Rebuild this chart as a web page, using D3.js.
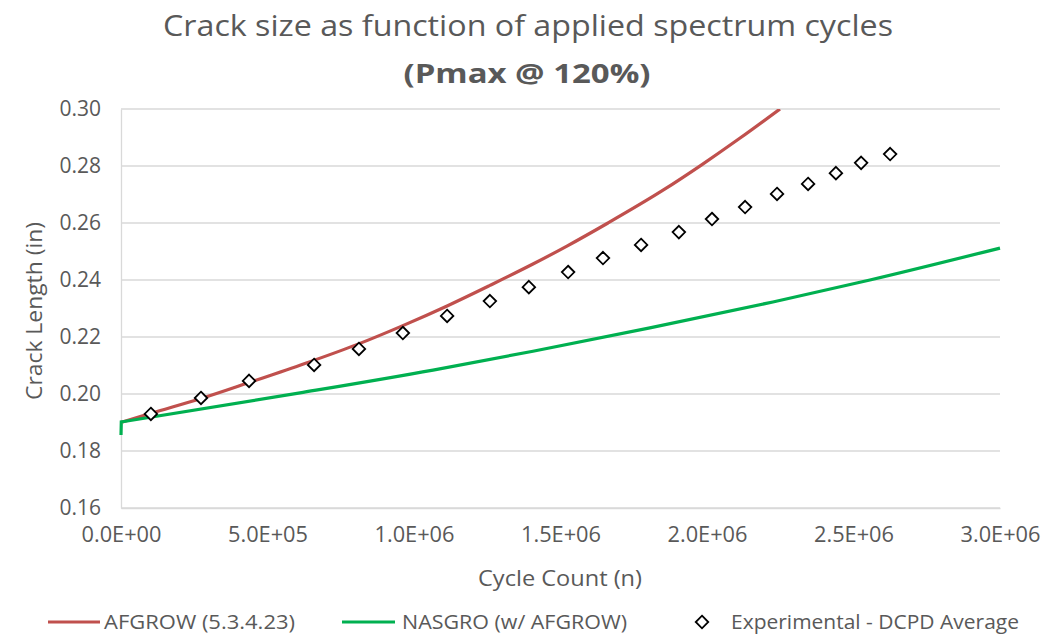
<!DOCTYPE html>
<html>
<head>
<meta charset="utf-8">
<script src="https://cdn.jsdelivr.net/npm/d3@7"></script>
<style>
  body { margin: 0; background: #fff; }
  text { font-family: "Open Sans", sans-serif; fill: #595959; }
</style>
</head>
<body>
<div id="chart"></div>
<script>
// AFGROW prediction (cycles, crack length in)
const afgrowCycles = [0, 102000, 273000, 437000, 611000, 809000, 962000, 1113000, 1259000, 1406000, 1522000, 1662000, 1850000, 1983000, 2113000, 2249000];
const afgrowLength = [0.1900, 0.1932, 0.1984, 0.2040, 0.2101, 0.2175, 0.2240, 0.2309, 0.2381, 0.2456, 0.2519, 0.2600, 0.2715, 0.2805, 0.2898, 0.3000];

// NASGRO prediction (first point is the initial flaw before the first cycle)
const nasgroCycles = [0, 1000, 611000, 1065000, 1406000, 1805000, 2225000, 2556000, 3000000];
const nasgroLength = [0.1856, 0.1902, 0.2004, 0.2084, 0.2150, 0.2232, 0.2323, 0.2400, 0.2512];

// experimental DCPD average
const expCycles = [102000, 273000, 437000, 659000, 812000, 962000, 1113000, 1259000, 1392000, 1526000, 1645000, 1775000, 1904000, 2017000, 2130000, 2239000, 2345000, 2440000, 2526000, 2625000];
const expLength = [0.1930, 0.1986, 0.2046, 0.2102, 0.2158, 0.2214, 0.2274, 0.2326, 0.2375, 0.2428, 0.2477, 0.2523, 0.2568, 0.2614, 0.2656, 0.2702, 0.2737, 0.2775, 0.2811, 0.2842];

const xTicks = [0, 500000, 1000000, 1500000, 2000000, 2500000, 3000000];
const yTicks = [0.16, 0.18, 0.20, 0.22, 0.24, 0.26, 0.28, 0.30];

const W = 1051, H = 635;
const margin = { top: 109, right: 51, bottom: 127, left: 121 };
const width  = W - margin.left - margin.right;
const height = H - margin.top - margin.bottom;

const svg = d3.select("#chart")
  .append("svg")
  .attr("width", W)
  .attr("height", H);

const g = svg.append("g")
  .attr("transform", `translate(${margin.left},${margin.top})`);

const x = d3.scaleLinear().domain([0, 3000000]).range([0, width]);
const y = d3.scaleLinear().domain([0.16, 0.30]).range([height, 0]);

const sci = v => {
  if (v === 0) return "0.0E+00";
  const e = Math.floor(Math.log10(v));
  return (v / 10 ** e).toFixed(1) + "E+" + String(e).padStart(2, "0");
};

// gridlines
g.append("g")
  .selectAll("line")
  .data(yTicks)
  .join("line")
    .attr("x1", 0)
    .attr("x2", width)
    .attr("y1", d => y(d))
    .attr("y2", d => y(d))
    .attr("stroke", "#d9d9d9")
    .attr("stroke-width", 1.3);

// axes
const xAxis = g.append("g")
  .attr("transform", `translate(0,${height})`)
  .call(d3.axisBottom(x).tickValues(xTicks).tickFormat(sci).tickSize(0).tickPadding(19));
const yAxis = g.append("g")
  .call(d3.axisLeft(y).tickValues(yTicks).tickFormat(d3.format(".2f")).tickSize(0).tickPadding(20));

[xAxis, yAxis].forEach(a => {
  a.select(".domain").attr("stroke", "#d9d9d9").attr("stroke-width", 1.3);
  a.selectAll("text")
    .style("font-family", "'Open Sans', sans-serif")
    .style("font-size", "21px")
    .attr("fill", "#595959");
});
xAxis.selectAll("text").attr("textLength", 80).attr("lengthAdjust", "spacingAndGlyphs");

// titles (stretched a little to the width of the original Calibri text)
const label = (txt, px, py, size, len) => svg.append("text")
  .attr("x", px)
  .attr("y", py)
  .attr("text-anchor", "middle")
  .attr("textLength", len)
  .attr("lengthAdjust", "spacingAndGlyphs")
  .style("font-size", size + "px")
  .text(txt);

label("Crack size as function of applied spectrum cycles", 528, 36, 29, 730);
label("(Pmax @ 120%)", 527, 83, 26, 247).style("font-weight", "bold");
label("Cycle Count (n)", 560, 586, 22, 164);
label("Crack Length (in)", -311, 42, 22, 178).attr("transform", "rotate(-90)");

// lines
g.append("clipPath")
  .attr("id", "plot-clip")
  .append("rect")
    .attr("x", -2)
    .attr("y", 0)
    .attr("width", width + 4)
    .attr("height", height + 2);

const smooth = d3.line()
  .x(d => x(d[0]))
  .y(d => y(d[1]))
  .curve(d3.curveMonotoneX);

const afgrow = d3.zip(afgrowCycles, afgrowLength);
const nasgro = d3.zip(nasgroCycles, nasgroLength);
const experimental = d3.zip(expCycles, expLength);

g.append("path")
  .datum(afgrow)
  .attr("clip-path", "url(#plot-clip)")
  .attr("fill", "none")
  .attr("stroke", "#c0504d")
  .attr("stroke-width", 3.2)
  .attr("d", smooth);

// NASGRO: straight jump from the initial flaw, then smooth
const [n0, ...nRest] = nasgro;
g.append("path")
  .datum(nasgro)
  .attr("clip-path", "url(#plot-clip)")
  .attr("fill", "none")
  .attr("stroke", "#00b050")
  .attr("stroke-width", 3.2)
  .attr("d", `M${x(n0[0])},${y(n0[1])}L` + smooth(nRest).slice(1));

const diamond = d3.symbol().type(d3.symbolDiamond2).size(100);

g.selectAll(".pt")
  .data(experimental)
  .join("path")
    .attr("class", "pt")
    .attr("transform", d => `translate(${x(d[0])},${y(d[1])})`)
    .attr("d", diamond)
    .attr("fill", "#fff")
    .attr("stroke", "#000")
    .attr("stroke-width", 1.8);

// legend
const legend = svg.append("g").attr("transform", "translate(0,622)");
const legText = (txt, px, len) => legend.append("text")
  .attr("x", px).attr("y", 7)
  .attr("textLength", len)
  .attr("lengthAdjust", "spacingAndGlyphs")
  .style("font-size", "20px")
  .text(txt);

legend.append("line")
  .attr("x1", 48).attr("x2", 100).attr("y1", 0).attr("y2", 0)
  .attr("stroke", "#c0504d").attr("stroke-width", 3.2);
legText("AFGROW (5.3.4.23)", 104, 191);

legend.append("line")
  .attr("x1", 342).attr("x2", 395).attr("y1", 0).attr("y2", 0)
  .attr("stroke", "#00b050").attr("stroke-width", 3.2);
legText("NASGRO (w/ AFGROW)", 402, 225);

legend.append("path")
  .attr("transform", "translate(702,0)")
  .attr("d", diamond)
  .attr("fill", "#fff")
  .attr("stroke", "#000")
  .attr("stroke-width", 1.8);
legText("Experimental - DCPD Average", 731, 288);
</script>
</body>
</html>
